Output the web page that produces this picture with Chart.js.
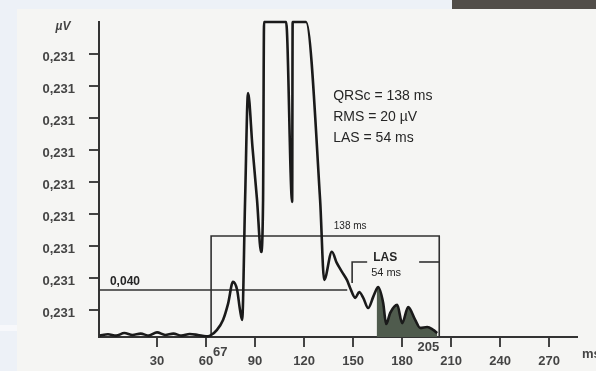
<!DOCTYPE html>
<html>
<head>
<meta charset="utf-8">
<script src="https://cdn.jsdelivr.net/npm/chart.js@4/dist/chart.umd.min.js"></script>
<style>
  html, body { margin: 0; padding: 0; }
  body { width: 596px; height: 371px; background: #edf1f7; position: relative; overflow: hidden; }
  .paper { position: absolute; left: 17px; top: 9px; right: 0; bottom: 0; background: #f5f5f3; }
  .band { position: absolute; left: 452px; top: 0; width: 144px; height: 9px; background: #524e49; }
  .strip { position: absolute; left: 0; top: 325px; width: 17px; height: 6px; background: #f7f8fb; }
  canvas { position: absolute; left: 0; top: 0; }
</style>
</head>
<body>
<div class="paper"></div>
<div class="band"></div>
<div class="strip"></div>
<canvas id="sawChart" width="596" height="371"></canvas>
<script>
// filtered QRS signal (time in ms, amplitude in y units of the plot)
const timeMs = [
  -5, 0, 5, 10, 15, 20, 25, 30, 35, 40, 45, 50, 55, 60,
  62.5, 66.7, 70.4, 73.5, 76.5, 79.0, 80.8, 82.1, 83.9, 85.7, 88.4, 91.2, 93.7,
  94.9, 95.5, 109.0, 112.7, 113.0, 121.2, 129.8, 132.3, 137.0, 140.0, 143.1, 146.2,
  148.2, 151.3, 153.7, 156.2, 159.2, 162.3, 164.4, 165.3, 168.4, 170.2, 172.7,
  177.0, 180.0, 183.7, 188.0, 191.1, 195.3, 199.0, 201.5
];
const signalUv = [
  0.2, 0.24, 0.2, 0.28, 0.22, 0.26, 0.2, 0.3, 0.22, 0.26, 0.2, 0.25, 0.22, 0.18,
  0.2, 0.38, 0.69, 1.2, 1.88, 1.63, 1.0, 0.69, 4.44, 7.78, 6.1, 4.44, 2.81,
  4.44, 10, 10, 4.38, 10, 10, 4.44, 1.94, 2.82, 2.47, 2.2, 1.94,
  1.69, 1.38, 1.56, 1.38, 1.06, 1.41, 1.66, 1.72, 1.22, 0.56, 0.91,
  1.16, 0.59, 1.09, 0.69, 0.44, 0.47, 0.38, 0.28
];
const lasShadeStartMs = 164.4;

// QRS duration box (67 .. 205 ms) and 40 µV threshold, LAS bracket
const boxMs = [63.1, 63.1, 202.7, 202.7];
const boxUv = [0.156, 3.31, 3.31, 0.156];
const thresholdMs = [-5.5, 146.4];
const thresholdUv = [1.625, 1.625];
const lasLeftMs = [149.4, 149.4, 158.6];
const lasLeftUv = [1.84, 2.5, 2.5];
const lasRightMs = [190.4, 202.7];
const lasRightUv = [2.5, 2.5];

// axis ticks
const xTickValues = [30, 60, 90, 120, 150, 180, 210, 240, 270];
const yTickValues = [1, 2, 3, 4, 5, 6, 7, 8, 9];
const yTickLabels = ['0,231', '0,231', '0,231', '0,231', '0,231', '0,231', '0,231', '0,231', '0,231'];

const toPoints = (xs, ys) => xs.map((x, i) => ({ x: x, y: ys[i] }));
const curve = toPoints(timeMs, signalUv);
const shaded = curve.filter(p => p.x >= lasShadeStartMs);

const ink = '#262626';
const font = "'Liberation Sans', Arial, sans-serif";

// text labels drawn on top of the plot
const labelsPlugin = {
    id: 'sawLabels',
    afterDatasetsDraw(chart) {
        const { ctx, chartArea, scales: { x, y } } = chart;
        ctx.save();
        ctx.fillStyle = ink;
        ctx.textBaseline = 'middle';

        ctx.font = '14px ' + font;
        ctx.textAlign = 'left';
        ctx.fillText('QRSc = 138 ms', x.getPixelForValue(137.8), y.getPixelForValue(7.69));
        ctx.fillText('RMS = 20 µV', x.getPixelForValue(137.8), y.getPixelForValue(7.03));
        ctx.fillText('LAS = 54 ms', x.getPixelForValue(137.8), y.getPixelForValue(6.375));

        ctx.font = '10px ' + font;
        ctx.textAlign = 'center';
        ctx.fillText('138 ms', x.getPixelForValue(148.2), y.getPixelForValue(3.63));

        ctx.font = 'bold 12px ' + font;
        ctx.fillText('LAS', x.getPixelForValue(169.6), y.getPixelForValue(2.63));
        ctx.font = '11px ' + font;
        ctx.fillText('54 ms', x.getPixelForValue(170.2), y.getPixelForValue(2.16));

        ctx.font = 'bold 12px ' + font;
        ctx.textAlign = 'left';
        ctx.fillText('0,040', x.getPixelForValue(1.2), y.getPixelForValue(1.9));

        ctx.fillStyle = '#444';
        ctx.font = 'bold 13px ' + font;
        ctx.textAlign = 'left';
        ctx.fillText('67', x.getPixelForValue(boxMs[0]) + 2, chartArea.bottom + 15);
        ctx.textAlign = 'right';
        ctx.fillText('205', x.getPixelForValue(boxMs[2]), chartArea.bottom + 10);
        ctx.textAlign = 'left';
        ctx.fillText('ms', chartArea.right + 5, chartArea.bottom + 17);

        ctx.font = 'italic bold 12px ' + font;
        ctx.textAlign = 'center';
        ctx.fillText('µV', chartArea.left - 36, chartArea.top + 5);
        ctx.restore();
    }
};

const guide = (data) => ({
    data: data,
    borderColor: '#303030',
    borderWidth: 1.6,
    pointRadius: 0,
    tension: 0,
    fill: false
});

new Chart(document.getElementById('sawChart'), {
    type: 'line',
    data: {
        datasets: [
            {
                data: curve,
                borderColor: '#1a1a1a',
                borderWidth: 2.6,
                pointRadius: 0,
                cubicInterpolationMode: 'monotone',
                fill: false,
                clip: false
            },
            {
                data: shaded,
                borderWidth: 0,
                borderColor: 'rgba(0,0,0,0)',
                backgroundColor: '#4f5b4d',
                pointRadius: 0,
                cubicInterpolationMode: 'monotone',
                fill: 'start'
            },
            guide(toPoints(boxMs, boxUv)),
            guide(toPoints(thresholdMs, thresholdUv)),
            guide(toPoints(lasLeftMs, lasLeftUv)),
            guide(toPoints(lasRightMs, lasRightUv))
        ]
    },
    options: {
        responsive: false,
        animation: false,
        layout: { padding: { top: 22, right: 19, left: 0, bottom: 0 } },
        plugins: {
            legend: { display: false },
            tooltip: { enabled: false },
            title: { display: false }
        },
        scales: {
            x: {
                type: 'linear',
                min: -5.5,
                max: 287,
                afterFit: scale => { scale.height = 34; },
                afterBuildTicks: scale => { scale.ticks = xTickValues.map(v => ({ value: v })); },
                border: { display: true, color: '#333', width: 2 },
                grid: { drawOnChartArea: false, drawTicks: true, tickLength: 10, color: '#444', lineWidth: 2 },
                ticks: {
                    color: '#444',
                    padding: 7,
                    maxRotation: 0,
                    font: { family: font, size: 13, weight: 'bold' },
                    callback: v => String(v)
                }
            },
            y: {
                type: 'linear',
                min: 0.156,
                max: 10,
                afterFit: scale => { scale.width = 99; },
                afterBuildTicks: scale => { scale.ticks = yTickValues.map(v => ({ value: v })); },
                border: { display: true, color: '#333', width: 2 },
                grid: { drawOnChartArea: false, drawTicks: true, tickLength: 10, color: '#444', lineWidth: 2 },
                ticks: {
                    color: '#444',
                    padding: 14,
                    labelOffset: 3,
                    font: { family: font, size: 13, weight: 'bold' },
                    callback: (v, i) => yTickLabels[i]
                }
            }
        }
    },
    plugins: [labelsPlugin]
});
</script>
</body>
</html>
